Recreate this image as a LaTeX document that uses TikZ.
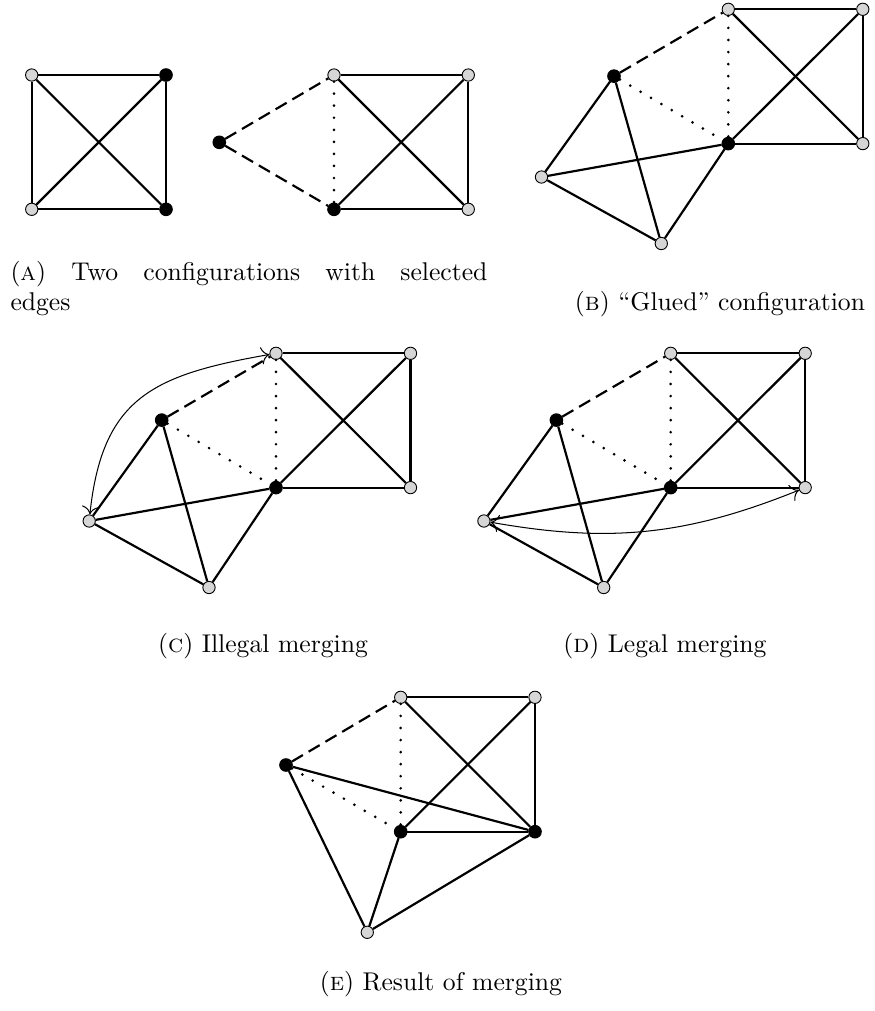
\documentclass[tikz,border=0pt]{standalone}
\usetikzlibrary{arrows.meta}
\newcommand\gluedcfg[1]{%
  \node[gv] (#1tl) at (0,0) {};
  \node[gv] (#1tr) at (134.5,0) {};
  \node[gv] (#1br) at (134.5,134.3) {};
  \node[bv] (#1c) at (0,134.3) {};
  \node[bv] (#1bl) at (-114.3,66.8) {};
  \node[gv] (#1gl) at (-186.8,167.7) {};
  \node[gv] (#1gb) at (-67,234.2) {};
  \draw[edge] (#1tl) -- (#1tr) -- (#1br) -- (#1c);
  \draw[edge] (#1tl) -- (#1br);
  \draw[edge] (#1c) -- (#1tr);
  \draw[dashededge] (#1bl) -- (#1tl);
  \draw[dottededge] (#1bl) -- (#1c);
  \draw[dottededge] (#1tl) -- (#1c);
  \draw[edge] (#1bl) -- (#1gl);
  \draw[edge] (#1bl) -- (#1gb);
  \draw[edge] (#1gl) -- (#1c);
  \draw[edge] (#1gl) -- (#1gb);
  \draw[edge] (#1gb) -- (#1c);
}
\begin{document}
\begin{tikzpicture}[x=0.39pt,y=-0.39pt,
  edge/.style={line width=0.85pt},
  dashededge/.style={line width=0.85pt, dash pattern=on 5pt off 2.6pt},
  dottededge/.style={line width=1.15pt, line cap=round, dash pattern=on 0pt off 4.7pt},
  gv/.style={circle, draw=black, line width=0.35pt, fill=black!16, inner sep=0pt, minimum size=4.8pt},
  bv/.style={circle, draw=black, fill=black, inner sep=0pt, minimum size=4.9pt},
  mergearrow/.style={line width=0.4pt, {To[scale=1.3]}-{To[scale=1.3]}},
  captext/.style={inner sep=0pt, font=\fontsize{10}{11.6}\selectfont}]
\useasboundingbox (0,0) rectangle (875,1011);
% ---------- (a) ----------
\node[gv] (a1) at (31.7,75) {};
\node[bv] (a2) at (166,75) {};
\node[gv] (a3) at (31.7,209.3) {};
\node[bv] (a4) at (166,209.3) {};
\draw[edge] (a1) -- (a2) -- (a4) -- (a3) -- (a1);
\draw[edge] (a1) -- (a4);
\draw[edge] (a3) -- (a2);
\node[bv] (r0) at (219.3,142.3) {};
\node[gv] (r1) at (334,75) {};
\node[gv] (r2) at (468.3,75) {};
\node[bv] (r3) at (334,209.3) {};
\node[gv] (r4) at (468.3,209.3) {};
\draw[dashededge] (r0) -- (r1);
\draw[dashededge] (r0) -- (r3);
\draw[dottededge] (r1) -- (r3);
\draw[edge] (r1) -- (r2) -- (r4) -- (r3);
\draw[edge] (r1) -- (r4);
\draw[edge] (r3) -- (r2);
\node[captext, anchor=north west, text width=186pt, align=justify] (capa) at (10,261)
  {(\textsc{a}) Two configurations with selected\linebreak edges};
% ---------- (b) ----------
\begin{scope}[shift={(728.3,9.3)}]
\gluedcfg{b}
\end{scope}
\node[captext, anchor=base] (capb) at (720,310) {(\textsc{b}) “Glued” configuration};
% ---------- (c) ----------
\begin{scope}[shift={(276,353.3)}]
\gluedcfg{c}
\end{scope}
\draw[mergearrow] (cgl) to[out=84, in=190, looseness=1.25] (ctl);
\node[captext, anchor=base] (capc) at (263,652) {(\textsc{c}) Illegal merging};
% ---------- (d) ----------
\begin{scope}[shift={(670.7,353.3)}]
\gluedcfg{d}
\end{scope}
\draw[mergearrow] (dgl) to[bend right=16] (dbr);
\node[captext, anchor=base] (capd) at (665,652) {(\textsc{d}) Legal merging};
% ---------- (e) ----------
\node[gv] (etl) at (400.7,697.3) {};
\node[gv] (etr) at (535,697.3) {};
\node[bv] (ebr) at (535,831.7) {};
\node[bv] (ec) at (400.7,831.7) {};
\node[bv] (ebl) at (286,765) {};
\node[gv] (egb) at (367.3,932.3) {};
\draw[edge] (etl) -- (etr) -- (ebr) -- (ec);
\draw[edge] (etl) -- (ebr);
\draw[edge] (ec) -- (etr);
\draw[dashededge] (ebl) -- (etl);
\draw[dottededge] (ebl) -- (ec);
\draw[dottededge] (etl) -- (ec);
\draw[edge] (ebl) -- (ebr);
\draw[edge] (ebl) -- (egb);
\draw[edge] (egb) -- (ec);
\draw[edge] (egb) -- (ebr);
\node[captext, anchor=base] (cape) at (441,990) {(\textsc{e}) Result of merging};
\end{tikzpicture}
\end{document}
